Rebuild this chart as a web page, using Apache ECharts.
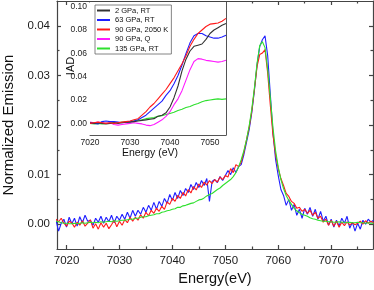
<!DOCTYPE html>
<html><head><meta charset="utf-8">
<script src="https://cdn.jsdelivr.net/npm/echarts@6/dist/echarts.min.js"></script>
<style>html,body{margin:0;padding:0;background:#fff}#c{width:374px;height:290px}</style>
</head><body><div id="c"></div>
<script>
// ---------- main chart data (Energy in eV, normalized emission) ----------
const mainEnergy = [7018,7018.5,7019,7019.5,7020,7020.5,7021,7021.5,7022,7022.5,
7023,7023.5,7024,7024.5,7025,7025.5,7026,7026.5,7027,7027.5,
7028,7028.5,7029,7029.5,7030,7030.5,7031,7031.5,7032,7032.5,
7033,7033.5,7034,7034.5,7035,7035.5,7036,7036.5,7037,7037.5,
7038,7038.5,7039,7039.5,7040,7040.5,7041,7041.5,7042,7042.5,
7043,7043.5,7044,7044.5,7045,7045.5,7046,7046.5,7047,7047.5,
7048,7048.5,7049,7049.5,7050,7050.5,7051,7051.5,7052,7052.5,
7053,7053.5,7054,7054.5,7055,7055.5,7056,7056.5,7057,7057.5,
7058,7058.5,7059,7059.5,7060,7060.5,7061,7061.5,7062,7062.5,
7063,7063.5,7064,7064.5,7065,7065.5,7066,7066.5,7067,7067.5,
7068,7068.5,7069,7069.5,7070,7070.5,7071,7071.5,7072,7072.5,
7073,7073.5,7074,7074.5,7075,7075.5,7076,7076.5,7077,7077.5,
7078];
const main63GPa = [0.0008,-0.0014,0.0002,0.0010,-0.0006,0.0014,0.0001,0.0012,-0.0004,0.0015,
0.0003,0.0018,0.0006,0.0008,-0.0002,0.0012,0.0004,0.0016,0.0002,0.0014,
0.0005,0.0018,0.0003,0.0016,0.0008,0.0020,0.0010,0.0024,0.0012,0.0028,
0.0016,0.0028,0.0020,0.0034,0.0024,0.0038,0.0028,0.0044,0.0030,0.0046,
0.0036,0.0052,0.0042,0.0060,0.0048,0.0064,0.0052,0.0068,0.0058,0.0072,
0.0064,0.0080,0.0070,0.0084,0.0074,0.0088,0.0078,0.0092,0.0046,0.0086,
0.0090,0.0084,0.0096,0.0088,0.0098,0.0108,0.0100,0.0114,0.0104,0.0116,
0.0120,0.0140,0.0165,0.0190,0.0225,0.0270,0.0322,0.0358,0.0372,0.0380,
0.0340,0.0262,0.0185,0.0130,0.0098,0.0070,0.0058,0.0038,0.0050,0.0028,
0.0040,0.0018,0.0030,0.0012,0.0032,0.0020,0.0034,0.0016,0.0030,0.0010,
0.0026,0.0006,0.0016,-0.0002,0.0010,-0.0006,0.0008,-0.0004,0.0012,0.0002,
0.0016,-0.0008,0.0004,-0.0014,0.0002,-0.0010,0.0008,0.0000,0.0010,0.0004,
0.0008];
const main90GPa2050K = [0.0010,0.0005,0.0012,0.0002,-0.0004,0.0006,0.0003,-0.0006,0.0004,-0.0002,
0.0007,-0.0004,0.0002,0.0009,-0.0008,0.0001,-0.0010,0.0003,-0.0006,0.0002,
-0.0009,-0.0001,0.0008,-0.0005,0.0006,-0.0002,0.0009,0.0003,0.0014,0.0006,
0.0014,0.0008,0.0019,0.0012,0.0024,0.0017,0.0028,0.0022,0.0032,0.0026,
0.0036,0.0030,0.0045,0.0040,0.0052,0.0046,0.0058,0.0052,0.0064,0.0057,
0.0070,0.0063,0.0076,0.0069,0.0081,0.0074,0.0085,0.0079,0.0088,0.0082,
0.0090,0.0085,0.0095,0.0090,0.0098,0.0095,0.0112,0.0104,0.0120,0.0116,
0.0125,0.0145,0.0170,0.0195,0.0228,0.0272,0.0318,0.0342,0.0345,0.0352,
0.0305,0.0240,0.0180,0.0140,0.0112,0.0092,0.0078,0.0062,0.0056,0.0046,
0.0042,0.0032,0.0034,0.0026,0.0030,0.0022,0.0028,0.0018,0.0024,0.0012,
0.0016,0.0004,0.0010,-0.0002,0.0008,-0.0004,0.0006,-0.0006,0.0004,-0.0003,
0.0005,-0.0002,0.0003,-0.0001,0.0002,0.0006,0.0000,0.0007,0.0002,0.0006,
0.0003];
const main135GPa = [0.0006,0.0005,0.0003,0.0002,0.0002,0.0001,0.0001,0.0002,0.0001,0.0002,
0.0003,0.0002,0.0003,0.0004,0.0003,0.0004,0.0003,0.0005,0.0004,0.0005,
0.0006,0.0005,0.0007,0.0006,0.0007,0.0008,0.0008,0.0009,0.0010,0.0010,
0.0012,0.0012,0.0014,0.0015,0.0015,0.0017,0.0018,0.0019,0.0021,0.0021,
0.0024,0.0025,0.0027,0.0028,0.0030,0.0031,0.0034,0.0034,0.0037,0.0038,
0.0040,0.0042,0.0043,0.0046,0.0049,0.0050,0.0053,0.0057,0.0060,0.0062,
0.0066,0.0070,0.0073,0.0078,0.0082,0.0086,0.0090,0.0096,0.0104,0.0115,
0.0130,0.0148,0.0170,0.0198,0.0232,0.0275,0.0325,0.0360,0.0368,0.0356,
0.0312,0.0255,0.0195,0.0148,0.0115,0.0090,0.0072,0.0058,0.0048,0.0040,
0.0032,0.0027,0.0023,0.0020,0.0018,0.0016,0.0013,0.0011,0.0010,0.0008,
0.0007,0.0006,0.0006,0.0005,0.0005,0.0004,0.0004,0.0005,0.0004,0.0004,
0.0003,0.0004,0.0003,0.0003,0.0004,0.0003,0.0003,0.0002,0.0003,0.0002,
0.0002];
const mainXTicks = [7020,7030,7040,7050,7060,7070];
const mainXMinor = [7025,7035,7045,7055,7065,7075];
const mainYTicks = [0,0.01,0.02,0.03,0.04];
const mainYMinor = [0.005,0.015,0.025,0.035];

// ---------- inset data (IAD vs energy) ----------
const insetEnergy = [7020,7021,7022,7023,7024,7025,7026,7027,7028,7029,
7030,7031,7032,7033,7034,7035,7036,7037,7038,7039,
7040,7041,7042,7043,7044,7045,7046,7047,7048,7049,
7050,7051,7052,7053,7054];
const iad2GPa = [0.0005,0.0000,0.0005,0.0000,-0.0005,0.0000,0.0005,0.0000,0.0005,0.0010,
0.0010,0.0015,0.0020,0.0025,0.0030,0.0035,0.0040,0.0060,0.0070,0.0090,
0.0140,0.0220,0.0320,0.0450,0.0550,0.0620,0.0660,0.0670,0.0680,0.0720,
0.0770,0.0800,0.0820,0.0840,0.0855];
const iad63GPa = [0.0000,0.0000,-0.0005,0.0015,0.0020,0.0015,0.0015,0.0010,0.0005,0.0010,
0.0015,0.0020,0.0030,0.0050,0.0070,0.0100,0.0130,0.0160,0.0190,0.0240,
0.0280,0.0340,0.0410,0.0500,0.0600,0.0690,0.0750,0.0770,0.0770,0.0750,
0.0740,0.0730,0.0730,0.0740,0.0755];
const iad90GPa2050K = [0.0000,0.0005,0.0010,0.0005,0.0000,0.0005,0.0000,0.0005,0.0010,0.0015,
0.0020,0.0030,0.0040,0.0070,0.0100,0.0140,0.0170,0.0210,0.0250,0.0290,
0.0340,0.0390,0.0450,0.0510,0.0580,0.0660,0.0720,0.0770,0.0800,0.0830,
0.0850,0.0855,0.0860,0.0875,0.0900];
const iad90GPaQ = [0.0010,0.0005,0.0010,0.0005,0.0000,0.0005,-0.0010,-0.0015,-0.0010,-0.0005,
0.0000,0.0005,0.0000,-0.0005,-0.0015,-0.0020,-0.0010,0.0010,0.0030,0.0060,
0.0100,0.0160,0.0210,0.0280,0.0370,0.0460,0.0530,0.0555,0.0550,0.0540,
0.0535,0.0530,0.0525,0.0530,0.0540];
const iad135GPa = [0.0000,-0.0005,0.0000,-0.0005,0.0000,0.0000,0.0005,0.0005,0.0010,0.0010,
0.0015,0.0020,0.0025,0.0030,0.0040,0.0045,0.0050,0.0060,0.0065,0.0075,
0.0085,0.0095,0.0110,0.0120,0.0135,0.0145,0.0160,0.0170,0.0185,0.0195,
0.0200,0.0205,0.0210,0.0205,0.0210];
const insetXTicks = [7020,7030,7040,7050];
const insetXMinor = [7025,7035,7045];
const insetYTicks = [0,0.02,0.04,0.06,0.08,0.10];
const insetYMinor = [0.01,0.03,0.05,0.07,0.09];
const legendNames = ['2 GPa, RT','63 GPa, RT','90 GPa, 2050 K','90 GPa, Q','135 GPa, RT'];

// ---------- styling ----------
const FONT = 'Liberation Sans, Arial, Helvetica, sans-serif';
const C_BLACK = '#333333', C_BLUE = '#1f1fff', C_RED = '#ff1a1a', C_MAG = '#ff1aff', C_GREEN = '#2ee02e';
const pairs = (xs, ys) => xs.map((x, i) => [x, ys[i]]);

function ax(gridIndex, min, max, position, tickVals, tickLen, opt) {
  opt = opt || {};
  return {
    type: 'value', gridIndex, min, max, position, scale: false,
    axisLine: { show: !!opt.line, onZero: false, lineStyle: { color: opt.color || '#444', width: opt.lw || 1.2 } },
    axisTick: { show: true, inside: true, length: tickLen, customValues: tickVals,
      lineStyle: { color: opt.color || '#444', width: opt.lw || 1.2 } },
    axisLabel: { show: !!opt.labels, customValues: opt.labels || tickVals, fontSize: opt.fs || 11,
      margin: opt.margin || 6, color: '#1a1a1a', fontFamily: FONT, formatter: opt.fmt },
    splitLine: { show: false }, minorTick: { show: false },
    name: opt.name || '', nameLocation: 'middle', nameGap: opt.nameGap || 20,
    nameTextStyle: { fontSize: opt.nameFs || 14, fontFamily: FONT, color: '#111' }
  };
}
const fx = v => String(Math.round(v));
const fy = v => v.toFixed(2);

const MX = [7018.2, 7077.9], MY = [-0.005, 0.045];
const IX = [7020, 7054], IY = [-0.01, 0.104];

const xAxis = [
  ax(0, MX[0], MX[1], 'bottom', mainXTicks, 4, { line: true, labels: mainXTicks, fmt: fx, fs: 11.5, margin: 6,
     name: 'Energy(eV)', nameGap: 22, nameFs: 14.5 }),
  ax(0, MX[0], MX[1], 'bottom', mainXMinor, 2.5, {}),
  ax(0, MX[0], MX[1], 'top', mainXTicks, 4, { line: true }),
  ax(0, MX[0], MX[1], 'top', mainXMinor, 2.5, {}),
  ax(1, IX[0], IX[1], 'bottom', insetXTicks, 3, { line: true, labels: insetXTicks, fmt: fx, fs: 8.5, margin: 3, color: '#555', lw: 1 }),
  ax(1, IX[0], IX[1], 'bottom', insetXMinor, 2, { color: '#555', lw: 1 }),
  ax(1, IX[0], IX[1], 'top', insetXTicks, 3, { line: true, color: '#555', lw: 1 }),
  ax(1, IX[0], IX[1], 'top', insetXMinor, 2, { color: '#555', lw: 1 })
];
const yAxis = [
  ax(0, MY[0], MY[1], 'left', mainYTicks, 4, { line: true, labels: mainYTicks, fmt: fy, fs: 11.5, margin: 7,
     name: 'Normalized Emission', nameGap: 41, nameFs: 15 }),
  ax(0, MY[0], MY[1], 'left', mainYMinor, 2.5, {}),
  ax(0, MY[0], MY[1], 'right', mainYTicks, 4, { line: true }),
  ax(0, MY[0], MY[1], 'right', mainYMinor, 2.5, {}),
  ax(1, IY[0], IY[1], 'left', insetYTicks, 3, { line: true, labels: insetYTicks, fmt: fy, fs: 8.5, margin: 3, color: '#555', lw: 1 }),
  ax(1, IY[0], IY[1], 'left', insetYMinor, 2, { color: '#555', lw: 1 }),
  ax(1, IY[0], IY[1], 'right', insetYTicks, 3, { line: true, color: '#555', lw: 1 }),
  ax(1, IY[0], IY[1], 'right', insetYMinor, 2, { color: '#555', lw: 1 })
];

function line(name, xs, ys, color, idx, w) {
  return { name, type: 'line', xAxisIndex: idx, yAxisIndex: idx, data: pairs(xs, ys),
    showSymbol: false, symbol: 'none', clip: true, animation: false,
    lineStyle: { color, width: w }, itemStyle: { color }, z: idx === 4 ? 5 : 2 };
}

const option = {
  animation: false,
  backgroundColor: '#fff',
  grid: [
    { left: 57, right: 1, top: 1, bottom: 41, containLabel: false, outerBoundsMode: 'none' },
    { left: 90, right: 148, top: 2, bottom: 155, show: true, backgroundColor: '#fff', borderWidth: 0, z: 3,
      containLabel: false, outerBoundsMode: 'none' }
  ],
  xAxis, yAxis,
  legend: {
    data: legendNames, left: 95, top: 5, orient: 'vertical', icon: 'rect',
    itemWidth: 13, itemHeight: 2, itemGap: 0.5, itemTextGap: 4,
    padding: [1, 3, 1, 2], borderColor: '#666', borderWidth: 0.8, backgroundColor: '#fff',
    textStyle: { fontSize: 7.5, lineHeight: 9, color: '#111', fontFamily: FONT }, z: 10
  },
  graphic: [
    { type: 'text', x: 71, y: 66, rotation: Math.PI / 2, z: 20,
      style: { text: 'IAD', font: '11px ' + FONT, fill: '#111', align: 'center', verticalAlign: 'middle' } },
    { type: 'text', x: 150, y: 153, z: 20,
      style: { text: 'Energy (eV)', font: '10.5px ' + FONT, fill: '#111', align: 'center', verticalAlign: 'middle' } }
  ],
  series: [
    line('XES 63 GPa, RT', mainEnergy, main63GPa, C_BLUE, 0, 1.1),
    line('XES 90 GPa, 2050 K', mainEnergy, main90GPa2050K, C_RED, 0, 1.1),
    line('XES 135 GPa, RT', mainEnergy, main135GPa, C_GREEN, 0, 1.1),
    line('135 GPa, RT', insetEnergy, iad135GPa, C_GREEN, 4, 1.1),
    line('90 GPa, Q', insetEnergy, iad90GPaQ, C_MAG, 4, 1.1),
    line('63 GPa, RT', insetEnergy, iad63GPa, C_BLUE, 4, 1.1),
    line('2 GPa, RT', insetEnergy, iad2GPa, C_BLACK, 4, 1.1),
    line('90 GPa, 2050 K', insetEnergy, iad90GPa2050K, C_RED, 4, 1.1)
  ]
};
const chart = echarts.init(document.getElementById('c'), null, { renderer: 'canvas' });
chart.setOption(option);
</script></body></html>
